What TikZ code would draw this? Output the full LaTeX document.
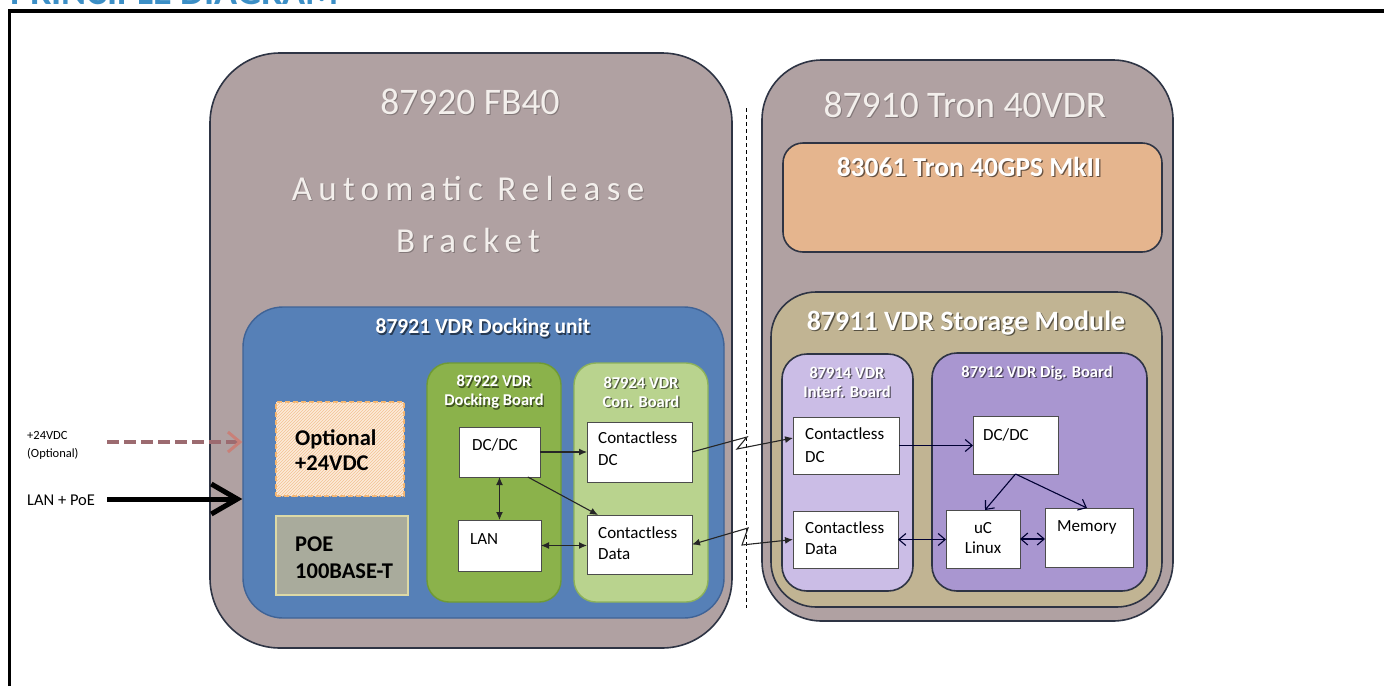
\documentclass[tikz,border=0pt]{standalone}
\usepackage{fontspec}
\setmainfont{Carlito}
\usetikzlibrary{arrows.meta,patterns,calc}
\definecolor{greybox}{HTML}{B0A1A2}
\definecolor{edge}{HTML}{2E3444}
\definecolor{blueunit}{HTML}{5680B7}
\definecolor{blueedge}{HTML}{3F6396}
\definecolor{greenA}{HTML}{8BB24B}
\definecolor{greenAedge}{HTML}{6F9A34}
\definecolor{greenB}{HTML}{B9D38E}
\definecolor{greenBedge}{HTML}{8DB25A}
\definecolor{orangebox}{HTML}{E5B58E}
\definecolor{tanbox}{HTML}{C1B493}
\definecolor{purpleA}{HTML}{CBBDE6}
\definecolor{purpleB}{HTML}{A996D0}
\definecolor{optfill}{HTML}{FCEBD9}
\definecolor{optline}{HTML}{F3C293}
\definecolor{optedge}{HTML}{F5B66E}
\definecolor{poefill}{HTML}{A9AB9C}
\definecolor{poeedge}{HTML}{DCD9A6}
\definecolor{titleblue}{HTML}{3C8FC6}
\definecolor{dashrose}{HTML}{9C6B70}
\definecolor{headrose}{HTML}{C98078}
\definecolor{lighttext}{HTML}{F3EFEC}
\newcommand\fsz[2]{\fontsize{#1}{#2}\selectfont}
\newcommand\shadowlabel[5]{%
  \node[#4, text=black, opacity=0.55] (#1s) at (#2+1.3,#3+1.3) {#5};
  \node[#4, text=white] (#1) at (#2,#3) {#5};}
\tikzset{
  fh/.tip={Latex[length=8pt,width=7pt]},
  oh/.tip={Straight Barb[length=7pt,width=12pt]}
}
\begin{document}
\begin{tikzpicture}[x=1pt,y=-1pt,
  container/.style={draw=edge, line width=1.6pt, inner sep=0pt, outer sep=0pt},
  board/.style={line width=1.4pt, inner sep=0pt, outer sep=0pt},
  whitebox/.style={draw=black!70, fill=white, line width=0.9pt, inner sep=0pt, outer sep=0pt},
  boxtxt/.style={inner sep=0pt, anchor=base west, font=\fsz{17}{20}},
  bigtitle/.style={inner sep=0pt, font=\fsz{37.5}{44}},
  boardtitle/.style={inner sep=0pt, align=center, font=\fsz{16.5}{19}\bfseries},
  conn/.style={line width=1.1pt, draw=black!85},
  rconn/.style={line width=1.1pt, draw=black!80!blue},
  boldlbl/.style={inner sep=0pt, anchor=base west, font=\fsz{22.5}{26}\bfseries}
]
\useasboundingbox (0,0) rectangle (1384,686);
\fill[white] (0,0) rectangle (1384,686);

% clipped title and frame
\node[anchor=base west, inner sep=0pt, text=titleblue, font=\fsz{38}{40}\bfseries] (title) at (10,4) {PRINCIPLE DIAGRAM};
\draw[line width=3.5pt] (9.5,686) -- (9.5,11) -- (1384,11);

% ---------------- left unit
\node[container, fill=greybox, rounded corners=70pt, minimum width=522pt, minimum height=595pt] (fb40) at (471,350.5) {};
\node[bigtitle, text=black, opacity=0.25] (fb40ts) at (471,103) {87920 FB40};
\node[bigtitle, text=lighttext] (fb40t) at (470,102) {87920 FB40};
\node[bigtitle, align=center, text=black, opacity=0.25, font=\fsz{35}{52}\addfontfeatures{LetterSpace=18}] (arbs) at (469,215) {Automatic Release\\Bracket};
\node[bigtitle, align=center, text=lighttext, font=\fsz{35}{52}\addfontfeatures{LetterSpace=18}] (arb) at (468,214) {Automatic Release\\Bracket};

\node[draw=blueedge, fill=blueunit, line width=1.4pt, rounded corners=40pt, minimum width=481pt, minimum height=311pt, inner sep=0pt] (dock) at (483.5,462.5) {};
\shadowlabel{dockt}{483}{328}{inner sep=0pt, font=\fsz{21.5}{24}\bfseries}{87921 VDR Docking unit}

\node[draw=optedge, dash pattern=on 5pt off 3pt, line width=2pt, fill=optfill, postaction={pattern=north east lines, pattern color=optline}, minimum width=128pt, minimum height=94pt, inner sep=0pt] (opt) at (340,449) {};
\node[boldlbl] (optl1) at (295,445) {Optional};
\node[boldlbl] (optl2) at (295,470) {+24VDC};

\node[draw=poeedge, fill=poefill, line width=1.6pt, minimum width=132pt, minimum height=79pt, inner sep=0pt] (poe) at (342,555.5) {};
\node[boldlbl] (poel1) at (295,551) {POE};
\node[boldlbl] (poel2) at (295,578) {100BASE-T};

\node[board, draw=greenAedge, fill=greenA, rounded corners=22pt, minimum width=134pt, minimum height=239pt] (dboard) at (494,482.5) {};
\node[board, draw=greenBedge, fill=greenB, rounded corners=22pt, minimum width=134pt, minimum height=239pt] (cboard) at (641,482.5) {};
\shadowlabel{dbt}{494}{392}{boardtitle}{87922 VDR\\Docking Board}
\shadowlabel{cbt}{641}{392}{boardtitle}{87924 VDR\\Con. Board}

\node[whitebox, minimum width=81pt, minimum height=50pt] (dcl) at (499.5,452) {};
\node[boxtxt] (dclt) at (472,450) {DC/DC};
\node[whitebox, minimum width=83pt, minimum height=51pt] (lan) at (499.5,545.5) {};
\node[boxtxt] (lant) at (470,544) {LAN};
\node[whitebox, minimum width=105pt, minimum height=60pt] (cdc) at (639.5,452) {};
\node[boxtxt] (cdct1) at (598,443) {Contactless};
\node[boxtxt] (cdct2) at (598,465) {DC};
\node[whitebox, minimum width=105pt, minimum height=59pt] (cdata) at (639.5,544.5) {};
\node[boxtxt] (cdatat1) at (598,538) {Contactless};
\node[boxtxt] (cdatat2) at (598,559) {Data};

% ---------------- right unit
\node[container, fill=greybox, rounded corners=60pt, minimum width=411pt, minimum height=561pt] (vdr) at (967.5,340.5) {};
\node[bigtitle, text=black, opacity=0.25] (vdrts) at (966,106) {87910 Tron 40VDR};
\node[bigtitle, text=lighttext] (vdrt) at (965,105) {87910 Tron 40VDR};

\node[container, fill=orangebox, rounded corners=20pt, minimum width=379pt, minimum height=109pt] (gps) at (972.5,197.5) {};
\shadowlabel{gpst}{969}{167}{inner sep=0pt, font=\fsz{27.5}{30}\bfseries}{83061 Tron 40GPS MkII}

\node[container, fill=tanbox, rounded corners=45pt, minimum width=391pt, minimum height=315pt] (sm) at (966.5,449.5) {};
\shadowlabel{smt}{966}{323}{inner sep=0pt, font=\fsz{28}{32}\bfseries}{87911 VDR Storage Module}

\node[container, fill=purpleA, rounded corners=25pt, minimum width=131pt, minimum height=237pt] (ib) at (847.5,472.5) {};
\node[container, fill=purpleB, rounded corners=25pt, minimum width=215pt, minimum height=238pt] (dg) at (1039.5,472) {};
\shadowlabel{ibt}{847}{382}{boardtitle}{87914 VDR\\Interf. Board}
\shadowlabel{dgt}{1037}{373}{boardtitle}{87912 VDR Dig. Board}

\node[whitebox, minimum width=106pt, minimum height=57pt] (cdr) at (846,445.5) {};
\node[boxtxt] (cdrt1) at (805,439) {Contactless};
\node[boxtxt] (cdrt2) at (805,462) {DC};
\node[whitebox, minimum width=105pt, minimum height=57pt] (datar) at (845.5,539.5) {};
\node[boxtxt] (datart1) at (805,533) {Contactless};
\node[boxtxt] (datart2) at (805,554) {Data};
\node[whitebox, minimum width=85pt, minimum height=58pt] (dcr) at (1015.5,445) {};
\node[boxtxt] (dcrt) at (983,440) {DC/DC};
\node[whitebox, minimum width=74pt, minimum height=58pt] (uc) at (983,539) {};
\node[boxtxt, anchor=base] (uct1) at (983,533) {uC};
\node[boxtxt, anchor=base] (uct2) at (983,553) {Linux};
\node[whitebox, minimum width=88pt, minimum height=59pt] (mem) at (1089,537.5) {};
\node[boxtxt] (memt) at (1057,531) {Memory};

% ---------------- separator
\coordinate (dtop) at (746,108);
\coordinate (dbot) at (746,608);
\draw[line width=0.9pt, dash pattern=on 4pt off 3pt] (dtop) -- (dbot);

% ---------------- inputs
\node[inner sep=0pt, anchor=base west, font=\fsz{12.5}{14}] (in24t1) at (27,439) {+24VDC};
\node[inner sep=0pt, anchor=base west, font=\fsz{12.5}{14}] (in24t2) at (27,457) {(Optional)};
\node[inner sep=0pt, anchor=base west, font=\fsz{16.5}{18}] (lant0) at (27,505) {LAN + PoE};
\coordinate (in24) at (107,442);
\coordinate (inlan) at (107,499);
\draw[line width=4pt, draw=dashrose, dash pattern=on 12pt off 5pt, -{Straight Barb[length=12pt,width=20pt,color=headrose,line width=3pt]}] (in24) -- (in24 -| dock.west);
\draw[line width=5pt, -{Straight Barb[length=26pt,width=30pt,line width=5pt]}] (inlan) -- (inlan -| dock.west);

% ---------------- left connectors
\draw[conn, -{fh}] (dcl.east) -- (dcl.east -| cdc.west);
\draw[conn, {fh}-{fh}] (dcl.south) -- (lan.north);
\draw[conn, -{fh}] ($(dcl.south west)!0.85!(dcl.south east)$) -- ($(cdata.north west)+(11,0)$);
\draw[conn, {fh}-{fh}] (lan.east) -- (lan.east -| cdata.west);

% ---------------- wireless links
\coordinate (z1) at (747,437);
\coordinate (z2) at (737,449);
\coordinate (z3) at (748,528);
\coordinate (z4) at (742,545);
\draw[conn, -{fh}] (cdc.east) -- (z1) -- (z2) -- ($(cdr.west)+(0,-7.5)$);
\draw[conn, {fh}-{fh}] (cdata.east) -- (z3) -- (z4) -- (datar.west);

% ---------------- right connectors
\draw[rconn, -{oh}] (cdr.east) -- (cdr.east -| dcr.west);
\draw[rconn, -{oh}] (dcr.south) -- ($(uc.north)+(2,0)$);
\draw[rconn, -{oh}] (dcr.south) -- ($(mem.north)+(-2,0)$);
\draw[rconn, {oh}-{oh}] (datar.east) -- (datar.east -| uc.west);
\draw[rconn, {oh}-{oh}] (uc.east) -- (uc.east -| mem.west);
\end{tikzpicture}
\end{document}
